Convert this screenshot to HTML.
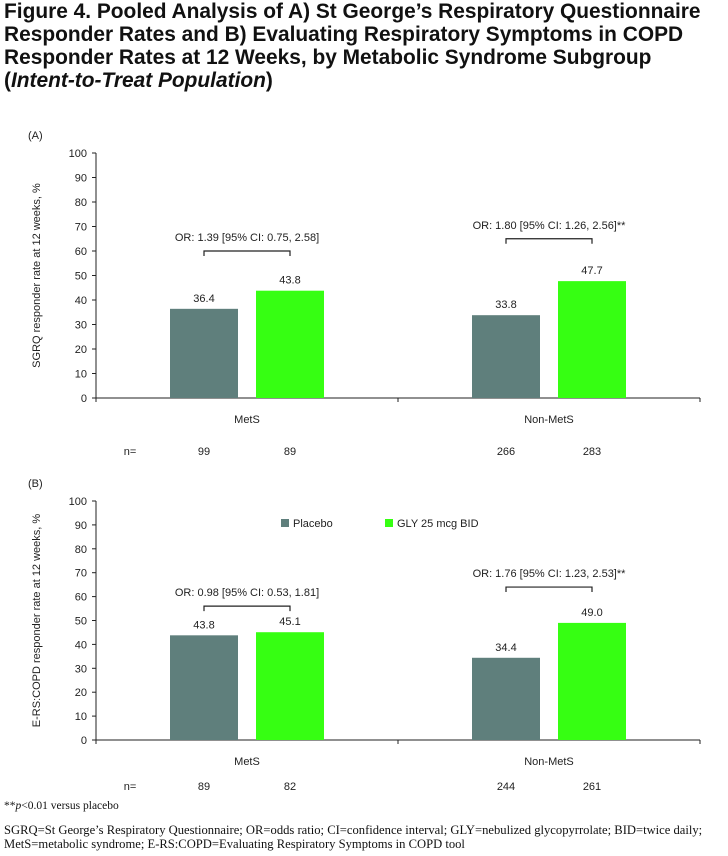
<!DOCTYPE html>
<html><head><meta charset="utf-8"><style>
body{margin:0;width:728px;height:856px;background:#fff;overflow:hidden;font-family:"Liberation Sans",sans-serif}
.title{position:absolute;left:4px;top:0px;font-weight:bold;font-size:20.9px;line-height:23px;color:#111;width:724px;white-space:nowrap}
.fn{position:absolute;left:4px;font-family:"Liberation Serif",serif;font-size:12.6px;color:#111;white-space:nowrap}
svg{position:absolute;left:0;top:0}
</style></head><body>
<div class="title">Figure 4. Pooled Analysis of A) St George’s Respiratory Questionnaire<br>Responder Rates and B) Evaluating Respiratory Symptoms in COPD<br>Responder Rates at 12 Weeks, by Metabolic Syndrome Subgroup<br>(<i>Intent-to-Treat Population</i>)</div>
<svg width="728" height="856" id="chart"></svg>
<div class="fn" style="top:800px;font-size:11.5px">**<i>p</i>&lt;0.01 versus placebo</div>
<div class="fn" style="top:823px;line-height:14px">SGRQ=St George’s Respiratory Questionnaire; OR=odds ratio; CI=confidence interval; GLY=nebulized glycopyrrolate; BID=twice daily;<br>MetS=metabolic syndrome; E-RS:COPD=Evaluating Respiratory Symptoms in COPD tool</div>
<script>
const categories=["MetS","Non-MetS"];
const sgrqPlacebo=[36.4,33.8];
const sgrqGly=[43.8,47.7];
const sgrqNPlacebo=[99,266];
const sgrqNGly=[89,283];
const sgrqOR=["OR: 1.39 [95% CI: 0.75, 2.58]","OR: 1.80 [95% CI: 1.26, 2.56]**"];
const sgrqBracket=[60,65];
const ersPlacebo=[43.8,34.4];
const ersGly=[45.1,49.0];
const ersNPlacebo=[89,244];
const ersNGly=[82,261];
const ersOR=["OR: 0.98 [95% CI: 0.53, 1.81]","OR: 1.76 [95% CI: 1.23, 2.53]**"];
const ersBracket=[56,64];
const yTicks=[0,10,20,30,40,50,60,70,80,90,100];
const NS="http://www.w3.org/2000/svg";
const svg=document.getElementById('chart');
function el(t,a,txt){const e=document.createElementNS(NS,t);for(const k in a)e.setAttribute(k,a[k]);if(txt!==undefined)e.textContent=txt;svg.appendChild(e);return e;}
function panel(p,label,ytitle,pl,gl,npl,ngl,ors,br){
  const x0=96,x1=700;
  const y=v=>p.base-(p.base-p.top)*v/100;
  const cx=i=>x0+(x1-x0)*(i+0.5)/categories.length;
  let e=el('text',{x:28,y:p.top-14,'font-size':11,fill:'#222'},label);
  
  
  e=el('line',{x1:x0,y1:p.top,x2:x0,y2:p.base,stroke:'#222','stroke-width':1});
  
  
  e=el('line',{x1:x0,y1:p.base,x2:x1,y2:p.base,stroke:'#222','stroke-width':1});
  
  
  [x0,(x0+x1)/2,x1].forEach(xx=>{el('line',{x1:xx,y1:p.base,x2:xx,y2:p.base+4,stroke:'#222'});});
  yTicks.forEach(t=>{
    el('line',{x1:x0-4,y1:y(t),x2:x0,y2:y(t),stroke:'#222'});
    const tt=el('text',{x:x0-9,y:y(t)+4,'font-size':11,'text-anchor':'end',fill:'#222'},t);
    
    
  });
  const ym=(p.top+p.base)/2;
  e=el('text',{x:0,y:0,'font-size':11,'text-anchor':'middle',fill:'#222',transform:`translate(40,${ym}) rotate(-90)`},ytitle);
  
  
  e=el('text',{x:130,y:p.nY,'font-size':11,'text-anchor':'middle',fill:'#222'},'n=');
  
  
  categories.forEach((c,i)=>{
    const c0=cx(i),bw=68,g=9;
    const bx=[c0-g-bw,c0+g];
    [[pl[i],'#5f7f7c',npl[i],'placebo'],[gl[i],'#36ff12',ngl[i],'gly']].forEach((d,j)=>{
      const r=el('rect',{x:bx[j],y:y(d[0]),width:bw,height:p.base-y(d[0]),fill:d[1]});
      
      
      const t=el('text',{x:bx[j]+bw/2,y:y(d[0])-7,'font-size':11,'text-anchor':'middle',fill:'#222'},d[0].toFixed(1));
      
      
      const n=el('text',{x:bx[j]+bw/2,y:p.nY,'font-size':11,'text-anchor':'middle',fill:'#222'},d[2]);
      
      
    });
    const t=el('text',{x:c0,y:p.base+25,'font-size':11,'text-anchor':'middle',fill:'#222'},c);
    
    
    const by=y(br[i]);
    const b=el('path',{d:`M${bx[0]+bw/2} ${by+5}V${by}H${bx[1]+bw/2}V${by+5}`,fill:'none',stroke:'#222','stroke-width':1.2});
    
    
    const o=el('text',{x:c0,y:by-10,'font-size':11,'text-anchor':'middle',fill:'#222'},ors[i]);
    
    
  });
}
panel({top:153,base:398,nY:455},'(A)','SGRQ responder rate at 12 weeks, %',sgrqPlacebo,sgrqGly,sgrqNPlacebo,sgrqNGly,sgrqOR,sgrqBracket);
panel({top:501,base:740,nY:790},'(B)','E-RS:COPD responder rate at 12 weeks, %',ersPlacebo,ersGly,ersNPlacebo,ersNGly,ersOR,ersBracket);
let e=el('rect',{x:281,y:519,width:8,height:8,fill:'#5f7f7c'});


e=el('text',{x:293,y:527,'font-size':11,fill:'#222'},'Placebo');


e=el('rect',{x:385,y:519,width:8,height:8,fill:'#36ff12'});


e=el('text',{x:397,y:527,'font-size':11,fill:'#222'},'GLY 25 mcg BID');


</script>
</body></html>
